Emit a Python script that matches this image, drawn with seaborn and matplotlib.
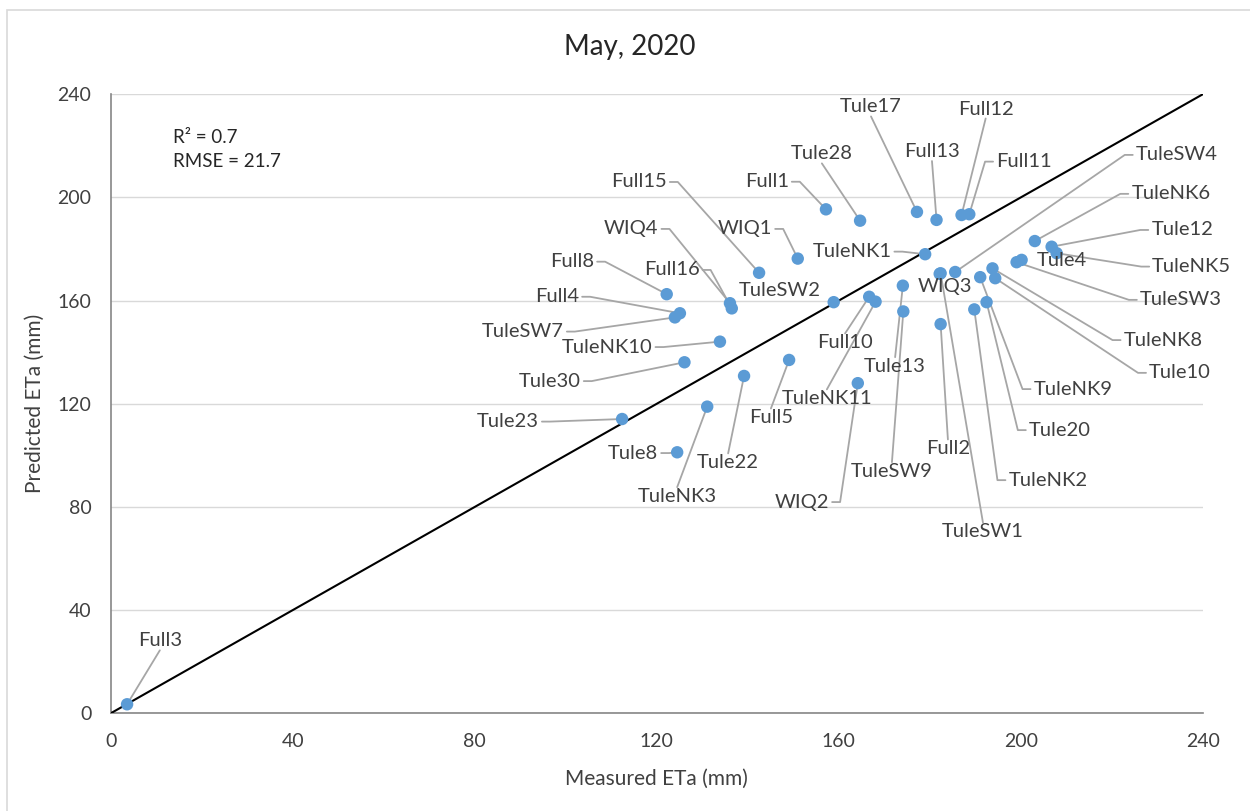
import matplotlib
matplotlib.use("Agg")
import matplotlib.pyplot as plt
import seaborn as sns
import pandas as pd
from matplotlib.patches import Rectangle

# --- data (mm) ---
sites = ["Full3", "Tule23", "Tule8", "TuleNK3", "Tule22", "Full5", "WIQ2", "Tule30",
         "TuleNK10", "Full4", "TuleSW7", "Full8", "WIQ4", "Full16", "Full15", "WIQ1",
         "Full1", "Tule28", "TuleSW2", "Full10", "TuleNK11", "Tule13", "TuleSW9",
         "TuleNK1", "Tule17", "Full13", "Full12", "Full11", "TuleSW1", "WIQ3",
         "TuleSW4", "Full2", "TuleNK2", "Tule20", "TuleNK9", "TuleNK8", "Tule10",
         "TuleSW3", "Tule4", "TuleNK6", "Tule12", "TuleNK5"]
measured = [3.6, 112.4, 124.5, 131.1, 139.2, 149.1, 164.2, 126.1,
            133.9, 125.1, 124.0, 122.2, 136.1, 136.5, 142.5, 151.0,
            157.2, 164.7, 158.9, 166.7, 168.1, 174.1, 174.2,
            179.0, 177.2, 181.5, 187.0, 188.7, 182.4, 182.2,
            185.6, 182.4, 189.8, 192.5, 191.1, 193.8, 194.4,
            199.1, 200.2, 203.1, 206.8, 207.9]
predicted = [3.5, 114.1, 101.2, 118.9, 130.8, 137.0, 128.0, 136.1,
             144.1, 155.1, 153.5, 162.5, 159.0, 157.0, 170.8, 176.3,
             195.4, 191.0, 159.4, 161.5, 159.6, 165.8, 155.8,
             178.0, 194.4, 191.3, 193.2, 193.5, 170.6, 170.4,
             171.1, 150.9, 156.6, 159.4, 169.1, 172.5, 168.7,
             174.9, 175.8, 183.1, 180.9, 178.4]

df = pd.DataFrame({"site": sites, "measured": measured, "predicted": predicted})

# label centre (data units) and where the leader line leaves the label:
# R = right side, L = left side, T = top, B = bottom, N = no leader
label_pos = {
    "Full3": (10.8, 28.1, "B"), "Tule23": (87.3, 113.1, "R"), "Tule8": (114.8, 100.9, "R"),
    "TuleNK3": (124.5, 84.0, "T"), "Tule22": (135.7, 97.1, "T"), "Full5": (145.1, 114.5, "T"),
    "WIQ2": (151.9, 81.9, "R"), "Tule30": (96.5, 128.8, "R"), "TuleNK10": (109.1, 142.0, "R"),
    "Full4": (98.1, 161.5, "R"), "TuleSW7": (90.6, 148.0, "R"), "Full8": (101.4, 175.1, "R"),
    "WIQ4": (114.4, 187.8, "R"), "Full16": (123.3, 171.9, "R"), "Full15": (116.1, 206.0, "R"),
    "WIQ1": (139.4, 187.8, "R"), "Full1": (144.2, 206.1, "R"), "Tule28": (156.3, 216.9, "B"),
    "TuleSW2": (147.1, 164.1, "N"), "Full10": (161.4, 143.6, "T"), "TuleNK11": (157.4, 121.9, "T"),
    "Tule13": (172.4, 134.4, "T"), "TuleSW9": (171.7, 93.7, "T"), "TuleNK1": (162.9, 179.0, "R"),
    "Tule17": (167.1, 235.1, "B"), "Full13": (180.5, 217.8, "B"), "Full12": (192.3, 234.3, "B"),
    "Full11": (200.7, 213.9, "L"), "TuleSW1": (191.7, 70.3, "T"), "WIQ3": (183.4, 165.4, "N"),
    "TuleSW4": (234.3, 216.5, "L"), "Full2": (184.0, 102.5, "T"), "TuleNK2": (206.0, 90.4, "L"),
    "Tule20": (208.6, 109.8, "L"), "TuleNK9": (211.5, 125.7, "L"), "TuleNK8": (231.3, 144.7, "L"),
    "Tule10": (235.0, 132.0, "L"), "TuleSW3": (235.2, 160.3, "L"), "Tule4": (209.1, 175.4, "N"),
    "TuleNK6": (233.0, 201.4, "L"), "Tule12": (235.5, 187.4, "L"), "TuleNK5": (237.6, 173.2, "L"),
}

ticks = [0, 40, 80, 120, 160, 200, 240]

sns.set_theme(style="white")
plt.rcParams['font.family'] = ['Lato', 'DejaVu Sans']

fig = plt.figure(figsize=(12.5, 8.11), dpi=100)
ax = fig.add_axes([110.7 / 1250, 1 - 713.3 / 811, 1092 / 1250, 619 / 811])

# outer chart border
fig.patches.append(Rectangle((7 / 1250, -0.05), 1.1, 1 - 10 / 811 + 0.05, transform=fig.transFigure,
                             fill=False, edgecolor='#d9d9d9', lw=1.2))

ax.plot(ticks[::6], ticks[::6], color='black', lw=1.5, zorder=3)
sns.scatterplot(data=df, x="measured", y="predicted", ax=ax, color='#5b9bd5',
                s=80, edgecolor='none', zorder=4, legend=False)

ax.set_xlim(0, 240)
ax.set_ylim(0, 240)
ax.set_xticks(ticks)
ax.set_yticks(ticks)
ax.yaxis.grid(True, color='#d9d9d9', lw=1)
ax.set_axisbelow(True)
for s in ['top', 'right']:
    ax.spines[s].set_visible(False)
for s in ['left', 'bottom']:
    ax.spines[s].set_color('#868686')
    ax.spines[s].set_linewidth(1.2)
ax.tick_params(axis='both', direction='out', length=6, width=1.2, color='#868686',
               labelsize=14, labelcolor='#404040', pad=8)

ax.set_xlabel("Measured ETa (mm)", fontsize=15, color='#404040', labelpad=14)
ax.set_ylabel("Predicted ETa (mm)", fontsize=15, color='#404040', labelpad=9)
fig.text(0.504, 1 - 47 / 811, "May, 2020", ha='center', va='center', fontsize=20, color='#262626')

ax.text(13.7, 223.1, "R² = 0.7", fontsize=13.5, color='#262626', va='center')
ax.text(13.7, 213.8, "RMSE = 21.7", fontsize=13.5, color='#262626', va='center')

texts = []
for site, x, y in zip(sites, measured, predicted):
    lx, ly, mode = label_pos[site]
    t = ax.text(lx, ly, site, ha='center', va='center', fontsize=14.5, color='#404040', zorder=5)
    texts.append((t, x, y, mode))

# leader lines, drawn in pixel space so the little stubs are the same everywhere
fig.canvas.draw()
renderer = fig.canvas.get_renderer()
inv = ax.transData.inverted()
for t, x, y, mode in texts:
    if mode == "N":
        continue
    bb = t.get_window_extent(renderer)
    cx, cy = (bb.x0 + bb.x1) / 2, (bb.y0 + bb.y1) / 2
    px, py = ax.transData.transform((x, y))
    if mode == "R":
        pts = [(bb.x1 + 3, cy), (bb.x1 + 11, cy), (px, py)]
    elif mode == "L":
        pts = [(bb.x0 - 3, cy), (bb.x0 - 11, cy), (px, py)]
    elif mode == "T":
        pts = [(cx, bb.y1 + 1), (px, py)]
    else:
        pts = [(cx, bb.y0 - 1), (px, py)]
    d = inv.transform(pts)
    ax.plot(d[:, 0], d[:, 1], color='#a6a6a6', lw=1.3, zorder=2, clip_on=False)

fig.savefig("out.png", dpi=100)
